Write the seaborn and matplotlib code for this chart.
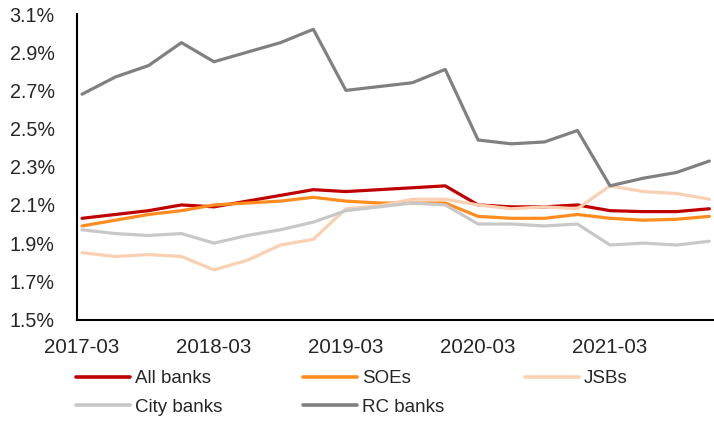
import pandas as pd
import numpy as np
import matplotlib.pyplot as plt
import seaborn as sns

# Quarterly data, 2017-03 to 2021-12 (values in %)
quarters = ['2017-03', '2017-06', '2017-09', '2017-12',
            '2018-03', '2018-06', '2018-09', '2018-12',
            '2019-03', '2019-06', '2019-09', '2019-12',
            '2020-03', '2020-06', '2020-09', '2020-12',
            '2021-03', '2021-06', '2021-09', '2021-12']

all_banks = [2.03, 2.05, 2.07, 2.10, 2.09, 2.12, 2.15, 2.18, 2.17, 2.18,
             2.19, 2.20, 2.10, 2.09, 2.09, 2.10, 2.07, 2.065, 2.065, 2.08]
soes = [1.99, 2.02, 2.05, 2.07, 2.10, 2.11, 2.12, 2.14, 2.12, 2.11,
        2.11, 2.11, 2.04, 2.03, 2.03, 2.05, 2.03, 2.02, 2.025, 2.04]
jsbs = [1.85, 1.83, 1.84, 1.83, 1.76, 1.81, 1.89, 1.92, 2.08, 2.095,
        2.13, 2.13, 2.10, 2.08, 2.09, 2.08, 2.20, 2.17, 2.16, 2.13]
city_banks = [1.97, 1.95, 1.94, 1.95, 1.90, 1.94, 1.97, 2.01, 2.07, 2.09,
              2.11, 2.10, 2.00, 2.00, 1.99, 2.00, 1.89, 1.90, 1.89, 1.91]
rc_banks = [2.68, 2.77, 2.83, 2.95, 2.85, 2.90, 2.95, 3.02, 2.70, 2.72,
            2.74, 2.81, 2.44, 2.42, 2.43, 2.49, 2.20, 2.24, 2.27, 2.33]

series_names = ['All banks', 'SOEs', 'JSBs', 'City banks', 'RC banks']
colors = {'All banks': '#C00000', 'SOEs': '#FF8C1E', 'JSBs': '#FAD0B2',
          'City banks': '#C8C8C8', 'RC banks': '#808080'}

# long-form table for seaborn
dates = pd.to_datetime(quarters) + pd.Timedelta(days=14)
frames = []
for name, vals in zip(series_names, [all_banks, soes, jsbs, city_banks, rc_banks]):
    frames.append(pd.DataFrame({'date': dates, 'value': vals, 'series': name}))
df = pd.concat(frames, ignore_index=True)

sns.set_style('white')
plt.rcParams['font.family'] = ['Liberation Sans', 'DejaVu Sans']
plt.rcParams['font.size'] = 14

fig = plt.figure(figsize=(7.14, 4.28), dpi=100)
ax = fig.add_axes([77 / 714, 1 - 319.5 / 428, 636 / 714, 305.5 / 428])

sns.lineplot(data=df, x='date', y='value', hue='series', hue_order=series_names,
             palette=colors, linewidth=2.3, sort=False, ax=ax)

ax.set_ylim(1.5, 3.1)
ax.set_yticks(np.arange(1.5, 3.11, 0.2))
ax.yaxis.set_major_formatter(plt.FuncFormatter(lambda v, p: f'{v:.1f}%'))
ax.set_xlim(pd.Timestamp('2017-03-01'), pd.Timestamp('2021-12-25'))

# tick marks at start of month, labels centred on the data points
tick_years = ['2017', '2018', '2019', '2020', '2021']
ax.set_xticks([pd.Timestamp(y + '-03-01') for y in tick_years])
ax.set_xticklabels([])
ax.set_xticks([pd.Timestamp(y + '-03-15') for y in tick_years], minor=True)
ax.set_xticklabels([y + '-03' for y in tick_years], minor=True)
ax.tick_params(axis='x', which='major', direction='out', length=6, width=1.5, color='black')
ax.tick_params(axis='x', which='minor', length=0, pad=13, labelsize=14.8)
ax.tick_params(axis='y', direction='out', length=6, width=1.5, color='black', pad=10,
               labelsize=14.2)

ax.set_xlabel('')
ax.set_ylabel('')
sns.despine(ax=ax)
for s in ['left', 'bottom']:
    ax.spines[s].set_color('black')
    ax.spines[s].set_linewidth(1.5)

handles, labels = ax.get_legend_handles_labels()
ax.get_legend().remove()
order = [0, 3, 1, 4, 2]
leg = fig.legend([handles[i] for i in order], [labels[i] for i in order],
                 loc='upper left', bbox_to_anchor=(76 / 714, 1 - 370 / 428),
                 ncol=3, frameon=False, borderpad=0, borderaxespad=0,
                 handlelength=2.88, handletextpad=0.27, columnspacing=4.3,
                 labelspacing=0.62, fontsize=13.5)
for h in leg.get_lines():
    h.set_linewidth(2.6)

plt.savefig('out.png', dpi=100)
